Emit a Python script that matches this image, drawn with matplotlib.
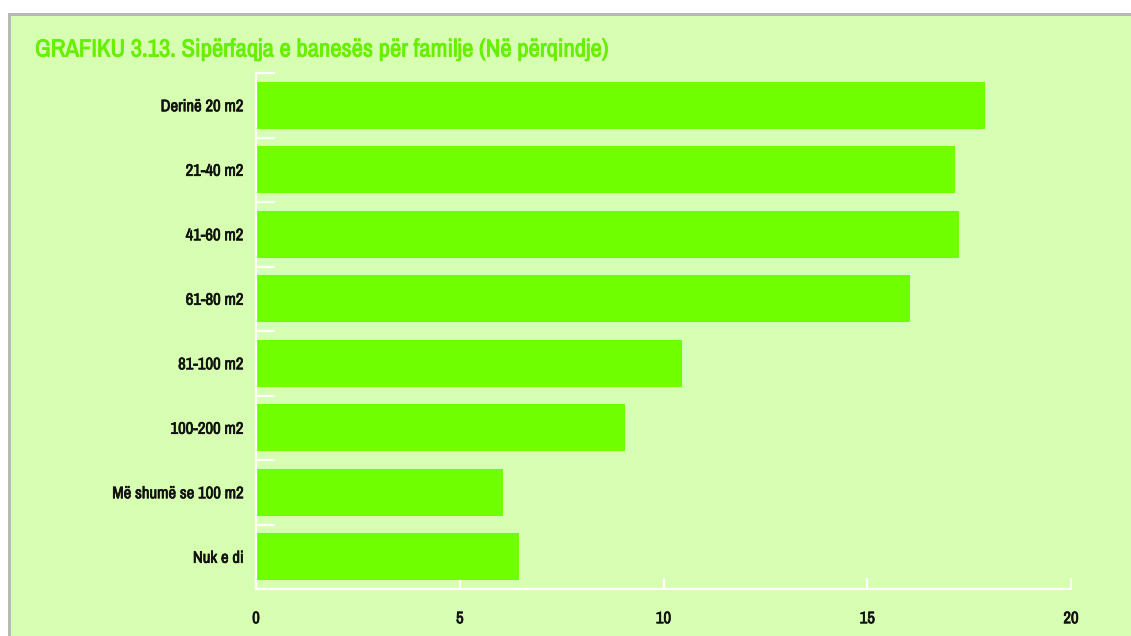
import numpy as np
import matplotlib.pyplot as plt
from matplotlib.patches import Rectangle
from matplotlib.ticker import FixedLocator
from matplotlib import font_manager
import matplotlib.patheffects as pe

# Categories (top to bottom) and percentages
categories = ['Derinë 20 m2', '21-40 m2', '41-60 m2', '61-80 m2', '81-100 m2',
              '100-200 m2', 'Më shumë se 100 m2', 'Nuk e di']
values = [17.9, 17.15, 17.25, 16.05, 10.45, 9.05, 6.05, 6.45]
xticks = [0, 5, 10, 15, 20]
title = 'GRAFIKU 3.13. Sipërfaqja e banesës për familje (Në përqindje)'

panel = '#d6ffb2'
bar_color = '#70ff00'

# condensed font if there is one
names = sorted(set(f.name for f in font_manager.fontManager.ttflist))
narrow = [n for n in names if 'Narrow' in n or 'Condensed' in n]
fam = narrow[:1] + ['DejaVu Sans']

fig = plt.figure(figsize=(11.31, 6.36), dpi=100)
fig.patch.set_facecolor('white')

# green panel with grey top/left border
fig.patches.append(Rectangle((9 / 1131, 0), 1.0, 1 - 14 / 636, transform=fig.transFigure,
                             facecolor=panel, edgecolor='none', zorder=-2))
fig.patches.append(Rectangle((8 / 1131, 0), 3 / 1131, 1 - 13 / 636, transform=fig.transFigure,
                             facecolor='#b8b8b8', edgecolor='none', zorder=-1))
fig.patches.append(Rectangle((8 / 1131, 1 - 16 / 636), 1.0, 3 / 636, transform=fig.transFigure,
                             facecolor='#b8b8b8', edgecolor='none', zorder=-1))

ax = fig.add_axes([256 / 1131, 47 / 636, 815 / 1131, 516 / 636])
ax.set_facecolor('none')

y = np.arange(len(categories))
ax.barh(y, values, height=0.73, color=bar_color, zorder=2)
ax.set_xlim(0, 20)
ax.set_ylim(len(categories) - 0.5, -0.5)

ax.set_yticks(y)
ax.set_yticklabels(categories)
ax.yaxis.set_minor_locator(FixedLocator(np.arange(len(categories) + 1) - 0.5))
ax.tick_params(axis='y', which='major', length=0, pad=9)
ax.tick_params(axis='y', which='minor', direction='in', length=14, width=1.6, color='white')
ax.set_xticks(xticks)
ax.set_xticklabels([str(t) for t in xticks])
ax.tick_params(axis='x', direction='in', length=8, width=1.6, color='white', pad=16)

bold_dark = [pe.withStroke(linewidth=0.5, foreground='#111111')]
for lab in ax.get_yticklabels() + ax.get_xticklabels():
    lab.set_family(fam)
    lab.set_fontweight('bold')
    lab.set_fontsize(12)
    lab.set_color('#111111')
    lab.set_path_effects(bold_dark)

for s in ['top', 'right']:
    ax.spines[s].set_visible(False)
for s in ['left', 'bottom']:
    ax.spines[s].set_color('white')
    ax.spines[s].set_linewidth(1.6)

fig.text(35 / 1131, 1 - 50 / 636, title, color='#66f000', fontsize=17.8, fontweight='bold',
         family=fam, va='center', ha='left',
         path_effects=[pe.withStroke(linewidth=0.6, foreground='#66f000')])

fig.savefig('out.png', dpi=100, facecolor=fig.get_facecolor())
